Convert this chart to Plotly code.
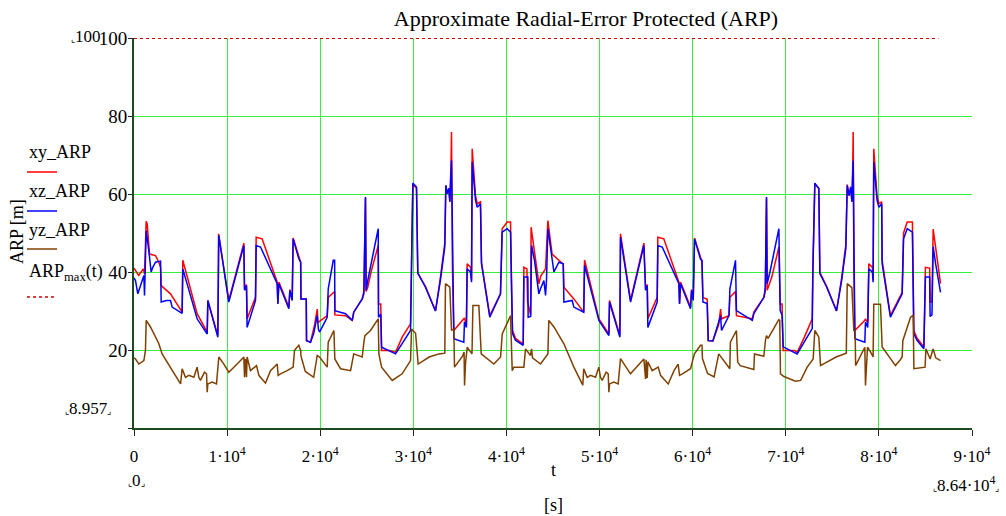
import plotly.graph_objects as go

# ---------------- data (t in seconds, values in metres) ----------------
t_xy = [0,160,500,1000,1130,1310,1420,1660,2310,2670,2850,2920,3920,5170,5240,6780,7860,7930,9000,9040,9080,10180,11800,11870,12080,12150,13050,13120,13760,15380,15450,15560,16630,16740,16990,17090,17700,17900,17930,18500,18530,18960,19400,19680,19750,20750,20860,21400,21550,21570,22720,23440,23600,24510,24690,24860,24930,25100,25500,26230,26260,26500,26590,27500,28090,28800,29700,29800,29950,30340,30480,31300,32380,32900,33380,33490,33630,33810,33920,34050,34100,34200,34350,35420,35490,35700,35780,36140,36250,36320,36680,36860,37210,37320,38210,39360,39540,40080,40440,40550,40650,40970,41800,41870,42200,42270,42600,42650,43000,43480,43700,44200,44450,44900,45630,46100,46170,47240,48300,48390,49930,51000,51070,52180,52250,53330,54760,54940,55120,55190,56190,56260,56900,58520,58590,58700,59770,59880,60060,60200,60840,61000,61100,61560,61670,62170,62800,63000,63100,63900,64000,64600,64700,66400,66570,67650,67800,67930,68000,68500,69260,69400,69600,69720,70900,71230,72000,72840,72910,73120,73550,73660,74400,75450,76000,76450,76600,76800,76980,77100,77200,77240,77310,77420,78490,78560,78800,78920,79300,79380,79450,79800,80000,80300,80350,81240,82500,82650,83040,83600,83700,83750,84100,84830,85000,85450,85500,85700,85830,86100,86620]
xy_ARP = [41.0,40.4,39.1,40.8,39.5,53.0,52.3,44.6,44.2,42.5,41.2,36.5,34.4,29.7,43.0,29.3,24.6,32.7,23.7,33.5,49.8,32.7,47.4,35.7,36.8,28.0,33.5,48.9,48.5,37.4,32.0,37.4,31.0,35.5,33.0,48.7,43.8,42.5,33.1,33.1,22.4,22.0,26.5,30.5,27.0,28.8,33.5,34.8,35.0,29.0,28.8,27.6,29.7,33.1,35.2,59.0,35.0,36.0,40.4,46.8,31.8,31.8,19.9,19.9,19.4,23.3,26.7,41.7,62.5,61.5,39.7,36.3,30.0,38.5,47.4,62.2,60.1,61.4,58.0,68.0,75.9,41.0,25.0,28.0,28.2,26.3,42.1,41.2,38.0,71.6,59.5,57.5,58.0,42.5,28.8,34.4,51.1,52.8,52.8,35.3,25.0,23.0,21.5,41.2,40.8,32.3,29.0,51.5,45.5,37.0,39.0,40.8,53.2,44.6,43.0,42.0,36.1,33.1,29.7,43.1,28.0,24.1,32.7,23.7,49.8,32.7,47.4,35.7,36.8,28.0,33.5,48.9,48.5,37.4,32.0,37.4,31.0,35.5,33.0,48.7,43.8,42.9,33.5,33.0,22.4,22.3,26.5,30.5,28.0,28.8,33.5,35.0,28.8,28.0,29.7,33.5,35.0,59.0,35.3,38.7,46.4,31.8,31.8,19.9,19.9,19.4,23.3,28.0,41.2,62.6,61.4,39.9,36.3,30.0,38.5,47.0,62.4,59.6,61.8,58.0,68.6,75.9,41.0,25.0,27.6,28.0,27.0,42.1,41.2,38.0,71.6,59.5,57.5,58.0,43.0,28.8,34.8,50.0,52.8,52.8,35.2,25.0,23.0,20.8,41.2,41.0,32.3,32.3,51.0,46.0,37.0]

t_xz = [0,160,410,1060,1130,1310,1590,1840,2020,2310,2850,2920,3490,3920,4100,5170,5240,6780,7860,7930,9000,9040,9110,10180,11800,11870,12080,12150,13050,13120,13590,15380,15450,15560,16630,16740,16990,17090,17700,17900,17930,18500,18530,18960,19300,19680,19800,19930,20750,20860,21400,21550,21570,22720,23440,23600,24510,24690,24860,24930,25100,26230,26260,26500,26590,28090,29700,29800,29950,30340,30480,31300,32380,32900,33380,33490,33630,33810,33920,34100,34240,34350,35420,35490,35700,35780,36140,36250,36320,36680,36860,37210,37320,38210,39360,39540,40080,40440,40650,40970,41800,41870,42300,42330,42600,42700,43020,43480,43660,44020,44200,44300,44450,44740,45100,45630,46100,46170,47060,47240,48300,48390,49930,51000,51070,52180,52250,53330,54760,54940,55120,55190,56190,56260,56730,58520,58590,58700,59770,59880,60060,60200,60840,61000,61100,61560,61670,62170,63000,63100,63900,64000,64600,64700,66400,66570,67650,67800,67930,68000,68300,69260,69400,69600,69720,71220,72840,72910,73120,73550,73660,74400,75450,76000,76450,76600,76800,76980,77100,77240,77310,77420,78490,78560,78800,78920,79300,79380,79450,79800,80000,80300,80350,81240,82500,82650,83040,83600,83750,84100,84830,85000,85450,85500,85700,85830,86100,86620]
xz_ARP = [38.5,37.8,34.4,39.1,34.0,50.6,45.5,40.0,41.2,42.5,42.8,32.3,32.7,32.7,31.0,29.4,40.8,28.0,24.1,32.7,23.3,33.5,49.4,32.3,46.8,35.3,36.5,25.8,32.7,46.8,46.4,37.0,31.8,37.0,30.6,35.3,32.7,48.5,43.4,42.5,33.1,33.1,22.4,22.0,24.2,28.8,25.4,24.6,28.4,35.7,43.0,43.0,30.1,29.3,27.6,29.7,33.1,34.4,59.2,35.3,37.8,51.1,28.4,29.2,20.7,19.0,25.0,40.0,62.8,61.8,39.7,36.1,30.0,37.8,46.4,62.2,60.1,61.4,58.0,68.6,40.4,22.9,22.0,27.2,25.8,40.8,40.0,37.4,68.2,58.4,56.6,57.5,42.1,28.4,34.4,50.2,51.1,50.2,24.2,22.5,21.2,38.7,38.7,28.4,28.6,46.8,42.9,34.4,35.7,37.8,34.0,37.8,51.1,46.4,40.0,42.5,42.1,32.3,32.7,31.0,29.7,41.7,27.6,23.7,32.3,23.3,48.9,32.3,46.8,35.3,36.5,25.8,32.3,46.8,46.4,37.0,31.8,37.0,30.6,35.3,32.7,48.5,43.3,42.9,32.3,31.9,22.4,22.3,28.8,25.0,28.8,35.7,43.0,30.1,27.6,29.3,33.5,36.0,59.2,37.0,40.0,51.1,30.1,29.0,20.8,19.0,25.5,40.0,62.8,61.4,39.6,36.1,30.0,37.8,46.0,62.2,59.6,61.8,58.0,68.6,40.4,22.9,22.0,27.2,25.8,40.8,40.0,37.4,68.2,58.4,56.6,57.5,42.1,28.4,34.4,48.5,51.1,50.2,24.2,22.5,20.3,38.7,38.7,28.6,29.0,46.5,42.0,34.8]

t_yz = [0,160,520,1060,1230,1310,1770,2670,3020,3920,5000,5170,5530,5890,6430,6780,6960,7140,7570,7790,7860,7930,8400,8860,9110,9650,10180,11080,11800,11870,11970,12080,12150,12510,13160,13410,14120,14660,15380,15480,15730,16450,17090,17240,17700,17900,17930,18400,19300,19680,19930,20750,20860,21470,21570,22180,23260,23600,24510,24690,24800,25400,26230,26300,26590,27730,28800,29700,29810,30240,30520,31700,32750,33380,33450,33920,34100,34350,34420,35300,35450,35500,35600,35790,36300,36400,37040,37290,38650,39370,39550,40440,40620,40800,41870,42050,42580,42700,42800,43660,44450,44550,45100,46170,46880,47240,48200,48300,48670,49030,49570,49920,50100,50280,50710,50930,51000,51070,51540,52000,52250,53320,54760,54940,55000,55120,55190,55650,56300,56550,57370,58000,58440,58590,58900,59770,60190,60840,61000,61050,61600,62300,62800,63990,64050,64700,64840,65100,66570,66640,67300,67640,67820,67930,68100,69250,69350,69430,69800,71040,71600,72300,72940,73120,73550,73730,75400,76500,76600,77100,77310,77450,77500,78490,78560,78680,78780,79100,79380,79450,80170,80350,81780,82300,82500,82570,83400,83680,83760,84960,85050,85500,85830,86100,86620]
yz_ARP = [18.0,17.7,16.4,17.3,19.9,27.6,25.9,21.6,19.0,15.6,11.3,15.2,13.0,13.5,13.0,15.6,13.0,12.2,14.3,13.9,9.2,11.3,11.8,11.3,18.2,16.4,14.3,16.4,18.2,13.0,17.7,13.0,18.2,14.7,16.0,13.5,11.5,14.7,16.4,13.5,13.9,14.7,15.6,19.9,21.2,19.9,18.5,14.5,13.0,18.6,18.2,15.6,22.0,25.0,17.7,15.2,14.7,19.0,18.2,22.0,23.7,25.0,28.0,19.0,15.6,12.2,13.9,17.3,25.4,24.3,16.4,18.2,19.0,19.2,37.0,36.1,25.0,25.4,15.6,18.5,19.5,10.9,16.5,20.7,19.0,31.4,31.4,19.0,16.4,18.2,24.1,28.8,14.7,15.6,15.6,20.3,18.6,20.3,18.0,16.4,19.0,27.6,25.9,21.6,17.3,15.6,11.0,15.2,13.0,13.5,13.0,15.6,13.0,12.2,14.3,13.9,9.2,11.3,11.8,11.3,17.8,13.9,17.7,12.6,17.5,12.8,17.0,14.7,15.6,13.5,11.3,14.7,16.4,13.5,13.9,15.2,19.0,21.2,21.2,17.8,14.0,13.1,19.0,15.2,22.0,25.0,16.9,16.0,15.0,19.0,18.6,18.4,22.5,23.7,23.0,27.8,27.6,13.9,13.2,12.0,12.2,15.6,17.7,25.0,23.3,16.0,18.2,19.2,37.0,36.0,25.0,25.0,16.0,20.7,10.9,16.5,20.7,19.5,18.2,31.7,31.7,20.8,16.0,17.5,18.2,22.4,28.4,28.9,15.2,15.6,20.3,17.7,20.3,18.0,17.3]

t_max = [0, 86400]
ARP_max = [100, 100]

x_ticks = [0, 10000, 20000, 30000, 40000, 50000, 60000, 70000, 80000, 90000]
x_tick_text = ["0"] + [f"{k}·10<sup>4</sup>" for k in range(1, 10)]
y_ticks = [0, 20, 40, 60, 80, 100]
y_tick_text = ["", "20", "40", "60", "80", "100"]

# ---------------- figure ----------------
W, H = 1006, 516
L, R, T, B = 134, 34, 38, 88
PW, PH = W - L - R, H - T - B
SERIF = "Liberation Serif"
RED, BLUE, BROWN = "#ff0000", "#0000ff", "#804000"
GRID = "#3cee3c"
AXIS = "#1f4a1f"

def px(x):
    return (x - L) / PW

def py(y):
    return (H - B - y) / PH

fig = go.Figure()
fig.add_trace(go.Scatter(x=t_xy, y=xy_ARP, mode="lines", name="xy_ARP",
                         line=dict(color=RED, width=1.5)))
fig.add_trace(go.Scatter(x=t_xz, y=xz_ARP, mode="lines", name="xz_ARP",
                         line=dict(color=BLUE, width=1.5)))
fig.add_trace(go.Scatter(x=t_yz, y=yz_ARP, mode="lines", name="yz_ARP",
                         line=dict(color=BROWN, width=1.5)))
fig.add_trace(go.Scatter(x=t_max, y=ARP_max, mode="lines", name="ARPmax",
                         line=dict(color="#d00000", width=2, dash="3px,3px")))

annotations = []
def ann(text, x, y, size=18, xanchor="center", yanchor="middle", angle=0):
    annotations.append(dict(text=text, x=px(x), y=py(y), xref="paper", yref="paper",
                            xanchor=xanchor, yanchor=yanchor, showarrow=False,
                            textangle=angle, font=dict(family=SERIF, size=size, color="black")))

# legend (Mathcad style, left side)
ann("xy_ARP", 27, 152, xanchor="left")
ann("xz_ARP", 27, 191, xanchor="left")
ann("yz_ARP", 27, 230, xanchor="left")
ann("ARP<sub>max</sub>(t)", 27, 272, xanchor="left")
# axis titles
ann("ARP [m]", 17, 231, angle=-90)
ann("t", 553, 470)
ann("[s]", 553, 505)
# Mathcad range placeholders
CL = '<span style="font-size:9px">⌞</span>'
CR = '<span style="font-size:9px">⌟</span>'
ann(CL + "100", 86, 36, size=17)
ann(CL + "8.957" + CR, 88, 408, size=17)
ann(CL + "0" + CR, 136, 480, size=17)
ann(CL + "8.64·10<sup>4</sup>" + CR, 1001, 484, size=17, xanchor="right")

shapes = []
def seg(x0, x1, y, color, dash="solid"):
    shapes.append(dict(type="line", xref="paper", yref="paper", x0=px(x0), x1=px(x1),
                       y0=py(y), y1=py(y), line=dict(color=color, width=1.5, dash=dash)))
seg(27, 57, 172, RED)
seg(27, 57, 211, BLUE)
seg(27, 57, 249, BROWN)
seg(27, 57, 297, "#d00000", dash="3px,3px")

fig.update_layout(
    width=W, height=H,
    margin=dict(l=L, r=R, t=T, b=B, pad=0),
    paper_bgcolor="white", plot_bgcolor="white",
    showlegend=False,
    title=dict(text="Approximate Radial-Error Protected (ARP)", x=586 / W, xref="container",
               xanchor="center", y=1 - 18 / H, yref="container", yanchor="middle",
               font=dict(family=SERIF, size=22, color="black")),
    annotations=annotations,
    shapes=shapes,
    xaxis=dict(range=[0, 90000], tickmode="array", tickvals=x_ticks, ticktext=x_tick_text,
               showgrid=True, gridcolor=GRID, gridwidth=1.2, zeroline=False,
               showline=True, linecolor=AXIS, linewidth=2,
               ticks="outside", ticklen=6, tickcolor="#222222", tickwidth=1,
               tickfont=dict(family=SERIF, size=17, color="black"), ticklabelstandoff=6),
    yaxis=dict(range=[0, 100], tickmode="array", tickvals=y_ticks, ticktext=y_tick_text,
               showgrid=True, gridcolor=GRID, gridwidth=1.2, zeroline=False,
               showline=True, linecolor=AXIS, linewidth=2,
               ticks="outside", ticklen=4, tickcolor="#222222", tickwidth=1,
               tickfont=dict(family=SERIF, size=19, color="black"), ticklabelstandoff=-3),
)

fig.write_html("out.html")
